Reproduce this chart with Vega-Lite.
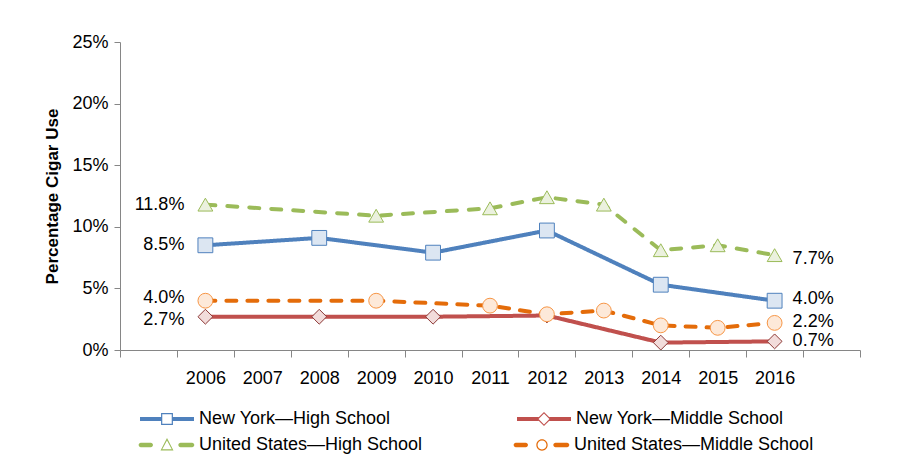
{
  "$schema": "https://vega.github.io/schema/vega-lite/v6.json",
  "width": 740,
  "height": 308,
  "autosize": "none",
  "padding": {"left": 120, "top": 42, "right": 42, "bottom": 121},
  "background": "white",
  "config": {
    "view": {"stroke": null},
    "font": "Liberation Sans",
    "axis": {"grid": false, "domainColor": "#868686", "tickColor": "#868686", "labelColor": "#000000", "labelFont": "Liberation Sans", "labelFontSize": 18, "titleFont": "Liberation Sans"},
    "legend": {"title": null, "orient": "none", "columns": 2, "direction": "horizontal", "symbolSize": 2916, "symbolStrokeWidth": 0, "symbolOpacity": 1, "labelFont": "Liberation Sans", "labelFontSize": 18, "labelColor": "#000000", "labelOffset": 5, "padding": 0, "labelLimit": 400},
    "text": {"fontSize": 18, "font": "Liberation Sans", "color": "#000000", "baseline": "middle"}
  },
  "data": {
    "values": [
      {"series": "New York—High School", "year": 2006, "pct": 8.5},
      {"series": "New York—High School", "year": 2008, "pct": 9.1},
      {"series": "New York—High School", "year": 2010, "pct": 7.9},
      {"series": "New York—High School", "year": 2012, "pct": 9.7},
      {"series": "New York—High School", "year": 2014, "pct": 5.3},
      {"series": "New York—High School", "year": 2016, "pct": 4.0},
      {"series": "New York—Middle School", "year": 2006, "pct": 2.7},
      {"series": "New York—Middle School", "year": 2008, "pct": 2.7},
      {"series": "New York—Middle School", "year": 2010, "pct": 2.7},
      {"series": "New York—Middle School", "year": 2012, "pct": 2.8},
      {"series": "New York—Middle School", "year": 2014, "pct": 0.6},
      {"series": "New York—Middle School", "year": 2016, "pct": 0.7},
      {"series": "United States—High School", "year": 2006, "pct": 11.8},
      {"series": "United States—High School", "year": 2009, "pct": 10.9},
      {"series": "United States—High School", "year": 2011, "pct": 11.5},
      {"series": "United States—High School", "year": 2012, "pct": 12.4},
      {"series": "United States—High School", "year": 2013, "pct": 11.8},
      {"series": "United States—High School", "year": 2014, "pct": 8.1},
      {"series": "United States—High School", "year": 2015, "pct": 8.5},
      {"series": "United States—High School", "year": 2016, "pct": 7.7},
      {"series": "United States—Middle School", "year": 2006, "pct": 4.0},
      {"series": "United States—Middle School", "year": 2009, "pct": 4.0},
      {"series": "United States—Middle School", "year": 2011, "pct": 3.6},
      {"series": "United States—Middle School", "year": 2012, "pct": 2.9},
      {"series": "United States—Middle School", "year": 2013, "pct": 3.2},
      {"series": "United States—Middle School", "year": 2014, "pct": 2.0},
      {"series": "United States—Middle School", "year": 2015, "pct": 1.8},
      {"series": "United States—Middle School", "year": 2016, "pct": 2.2}
    ]
  },
  "encoding": {
    "x": {
      "field": "year", "type": "ordinal",
      "scale": {"type": "band", "domain": [2005, 2006, 2007, 2008, 2009, 2010, 2011, 2012, 2013, 2014, 2015, 2016, 2017], "paddingInner": 0, "paddingOuter": 0},
      "axis": {"title": null, "labelAngle": 0, "tickBand": "extent", "tickSize": 7, "labelPadding": 12, "labelExpr": "datum.value == 2005 || datum.value == 2017 ? '' : datum.label"}
    },
    "y": {
      "field": "pct", "type": "quantitative",
      "scale": {"domain": [0, 25], "nice": false, "zero": true},
      "axis": {"title": "Percentage Cigar Use", "titleFontSize": 17, "titleFontWeight": "bold", "titleColor": "#000000", "titlePadding": 10, "values": [0, 5, 10, 15, 20, 25], "tickSize": 6, "labelPadding": 6, "labelExpr": "datum.value + '%'"}
    }
  },
  "layer": [
    {
      "mark": {"type": "line", "strokeWidth": 4, "strokeCap": "round"},
      "encoding": {
        "color": {"field": "series", "type": "nominal", "legend": null,
          "scale": {"domain": ["New York—High School", "New York—Middle School", "United States—High School", "United States—Middle School"], "range": ["#4F81BD", "#C0504D", "#9BBB59", "#E46C0A"]}},
        "strokeDash": {"field": "series", "type": "nominal", "legend": null,
          "scale": {"domain": ["New York—High School", "New York—Middle School", "United States—High School", "United States—Middle School"], "range": [[1, 0], [1, 0], [10, 12], [10, 11]]}}
      }
    },
    {
      "mark": {"type": "point", "filled": true, "size": 220, "strokeWidth": 1, "opacity": 1},
      "encoding": {
        "shape": {"field": "series", "type": "nominal", "legend": null,
          "scale": {"domain": ["New York—High School", "New York—Middle School", "United States—High School", "United States—Middle School"], "range": ["square", "diamond", "triangle-up", "circle"]}},
        "fill": {"field": "series", "type": "nominal", "legend": null,
          "scale": {"domain": ["New York—High School", "New York—Middle School", "United States—High School", "United States—Middle School"], "range": ["#DCE6F2", "#F2DCDB", "#EBF1DE", "#FDE9D9"]}},
        "stroke": {"field": "series", "type": "nominal", "legend": null,
          "scale": {"domain": ["New York—High School", "New York—Middle School", "United States—High School", "United States—Middle School"], "range": ["#4F81BD", "#8C3836", "#9BBB59", "#F79646"]}}
      }
    },
    {
      "transform": [{"filter": "datum.year == 2006 && (datum.series == 'New York—High School' || datum.series == 'United States—High School')"}, {"calculate": "format(datum.pct, '.1f') + '%'", "as": "label"}],
      "mark": {"type": "text", "align": "right", "dx": -21},
      "encoding": {"text": {"field": "label"}}
    },
    {
      "transform": [{"filter": "datum.year == 2006 && datum.series == 'United States—Middle School'"}, {"calculate": "format(datum.pct, '.1f') + '%'", "as": "label"}],
      "mark": {"type": "text", "align": "right", "dx": -21, "dy": -3},
      "encoding": {"text": {"field": "label"}}
    },
    {
      "transform": [{"filter": "datum.year == 2006 && datum.series == 'New York—Middle School'"}, {"calculate": "format(datum.pct, '.1f') + '%'", "as": "label"}],
      "mark": {"type": "text", "align": "right", "dx": -21, "dy": 3},
      "encoding": {"text": {"field": "label"}}
    },
    {
      "transform": [{"filter": "datum.year == 2016 && datum.series == 'United States—High School'"}, {"calculate": "format(datum.pct, '.1f') + '%'", "as": "label"}],
      "mark": {"type": "text", "align": "left", "dx": 18, "dy": 4},
      "encoding": {"text": {"field": "label"}}
    },
    {
      "transform": [{"filter": "datum.year == 2016 && datum.series == 'New York—High School'"}, {"calculate": "format(datum.pct, '.1f') + '%'", "as": "label"}],
      "mark": {"type": "text", "align": "left", "dx": 18, "dy": -2},
      "encoding": {"text": {"field": "label"}}
    },
    {
      "transform": [{"filter": "datum.year == 2016 && datum.series == 'United States—Middle School'"}, {"calculate": "format(datum.pct, '.1f') + '%'", "as": "label"}],
      "mark": {"type": "text", "align": "left", "dx": 18, "dy": -1},
      "encoding": {"text": {"field": "label"}}
    },
    {
      "transform": [{"filter": "datum.year == 2016 && datum.series == 'New York—Middle School'"}, {"calculate": "format(datum.pct, '.1f') + '%'", "as": "label"}],
      "mark": {"type": "text", "align": "left", "dx": 18},
      "encoding": {"text": {"field": "label"}}
    },
    {
      "transform": [{"filter": "datum.year == 1900"}],
      "mark": {"type": "point", "filled": true, "opacity": 1},
      "encoding": {
        "x": {"value": 0}, "y": {"value": 0},
        "shape": {"field": "series", "type": "nominal",
          "scale": {"domain": ["New York—High School", "New York—Middle School"],
            "range": [
              "M-1,-0.07H-0.22V0.07H-1ZM0.22,-0.07H1V0.07H0.22ZM-0.22,-0.22H0.22V0.22H-0.22ZM-0.175,-0.175V0.175H0.175V-0.175Z",
              "M-1,-0.07H-0.2V0.07H-1ZM0.2,-0.07H1V0.07H0.2ZM0,-0.26L0.26,0L0,0.26L-0.26,0ZM0,-0.2L-0.2,0L0,0.2L0.2,0Z"
            ]},
          "legend": {"legendX": 20, "legendY": 350, "columnPadding": 126}
        },
        "fill": {"field": "series", "type": "nominal",
          "scale": {"domain": ["New York—High School", "New York—Middle School"], "range": ["#4F81BD", "#C0504D"]},
          "legend": {"legendX": 20, "legendY": 350, "columnPadding": 126}
        }
      }
    },
    {
      "transform": [{"filter": "datum.year == 1900"}],
      "mark": {"type": "point", "filled": true, "opacity": 1},
      "encoding": {
        "x": {"value": 0}, "y": {"value": 0},
        "shape": {"field": "series", "type": "nominal",
          "scale": {"domain": ["United States—High School", "United States—Middle School"],
            "range": [
              "M-0.97,-0.08H-0.6A0.08,0.08 0 0,1 -0.6,0.08H-0.97A0.08,0.08 0 0,1 -0.97,-0.08ZM0.5,-0.08H0.93A0.08,0.08 0 0,1 0.93,0.08H0.5A0.08,0.08 0 0,1 0.5,-0.08ZM0,-0.26L0.24,0.2L-0.24,0.2ZM0,-0.165L-0.175,0.155L0.175,0.155Z",
              "M-0.97,-0.08H-0.6A0.08,0.08 0 0,1 -0.6,0.08H-0.97A0.08,0.08 0 0,1 -0.97,-0.08ZM0.5,-0.08H0.93A0.08,0.08 0 0,1 0.93,0.08H0.5A0.08,0.08 0 0,1 0.5,-0.08ZM-0.21,0A0.21,0.21 0 1,1 0.21,0A0.21,0.21 0 1,1 -0.21,0ZM-0.165,0A0.165,0.165 0 1,0 0.165,0A0.165,0.165 0 1,0 -0.165,0Z"
            ]},
          "legend": {"legendX": 20, "legendY": 376, "columnPadding": 90}
        },
        "fill": {"field": "series", "type": "nominal",
          "scale": {"domain": ["United States—High School", "United States—Middle School"], "range": ["#9BBB59", "#E46C0A"]},
          "legend": {"legendX": 20, "legendY": 376, "columnPadding": 90}
        }
      }
    }
  ],
  "resolve": {"scale": {"shape": "independent", "fill": "independent", "stroke": "independent"}}
}
